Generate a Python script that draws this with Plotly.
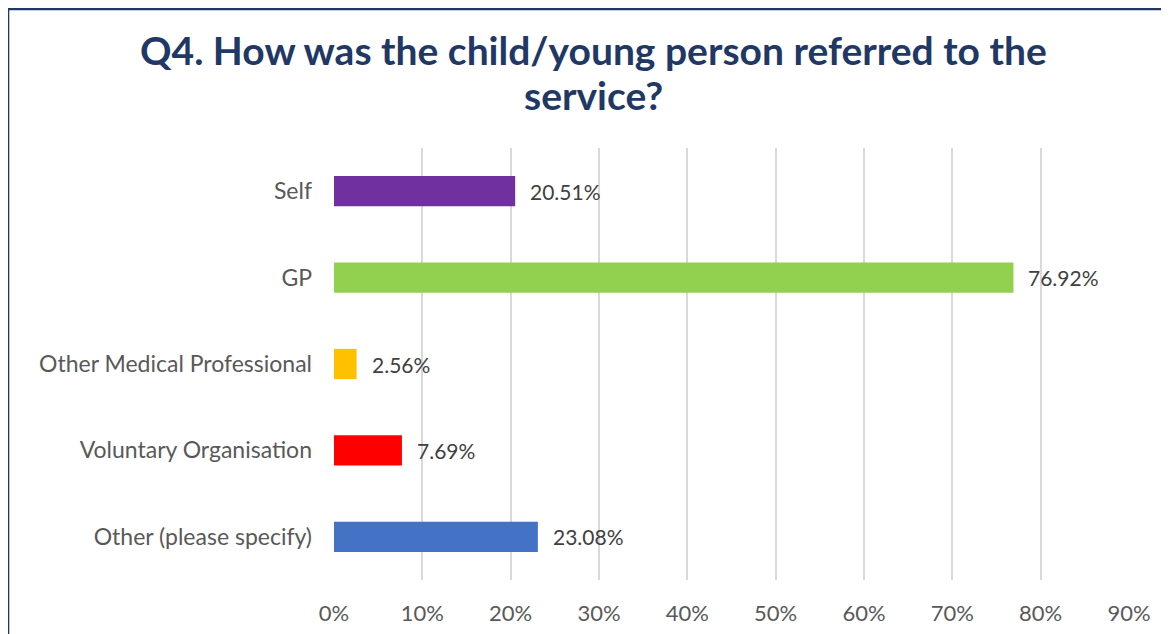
import plotly.graph_objects as go

# referral sources and share of responses
categories = ["Self", "GP", "Other Medical Professional", "Voluntary Organisation", "Other (please specify)"]
values = [0.2051, 0.7692, 0.0256, 0.0769, 0.2308]
labels = ["20.51%", "76.92%", "2.56%", "7.69%", "23.08%"]
colors = ["#7030a0", "#92d050", "#ffc000", "#ff0000", "#4472c4"]

font = "Lato"
navy = "#1f3864"

fig = go.Figure(go.Bar(
    x=values, y=categories, orientation="h",
    marker=dict(color=colors, line=dict(width=0)),
    width=0.35,
))

# value labels just right of each bar
for v, c, lab in zip(values, categories, labels):
    fig.add_annotation(x=v, y=c, text=lab, showarrow=False,
                       xanchor="left", xshift=13,
                       font=dict(family=font, size=21, color="#404040"))

# two-line title
fig.add_annotation(x=0.3258, y=1.228, xref="paper", yref="paper",
                   text="<b>Q4. How was the child/young person referred to the</b>",
                   showarrow=False, xanchor="center", yanchor="middle",
                   font=dict(family=font, size=39, color=navy))
fig.add_annotation(x=0.3258, y=1.123, xref="paper", yref="paper",
                   text="<b>service?</b>",
                   showarrow=False, xanchor="center", yanchor="middle",
                   font=dict(family=font, size=39, color=navy))

fig.update_layout(
    width=1169, height=634,
    margin=dict(l=326, r=48, t=140, b=62),
    paper_bgcolor="white", plot_bgcolor="white",
    showlegend=False,
    xaxis=dict(
        range=[0, 0.9], tickvals=[i / 10 for i in range(10)],
        tickformat=".0%", showgrid=True, gridcolor="#d9d9d9", gridwidth=2,
        zeroline=False, showline=False, ticks="",
        tickfont=dict(family=font, size=22, color="#595959"),
        ticklabelstandoff=18,
    ),
    yaxis=dict(
        autorange="reversed", showgrid=False, ticks="",
        tickfont=dict(family=font, size=23, color="#595959"),
        ticklabelstandoff=21,
    ),
)

# chart frame (only left and top edges are visible in the crop)
fig.add_shape(type="rect", xref="paper", yref="paper",
              x0=-0.41, x1=1.2, y0=-0.3, y1=1.322,
              line=dict(color=navy, width=2.5), layer="below")

fig.write_html("out.html")
